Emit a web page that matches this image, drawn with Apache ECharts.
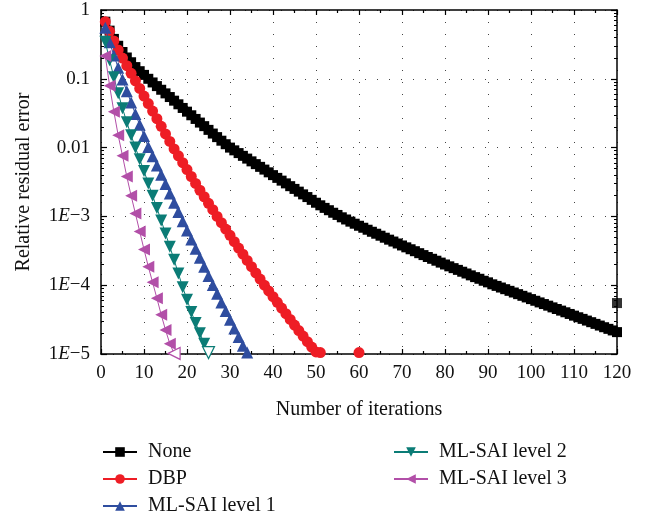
<!DOCTYPE html>
<html>
<head>
<meta charset="utf-8">
<script src="https://cdn.jsdelivr.net/npm/echarts@6/dist/echarts.min.js"></script>
<style>html,body{margin:0;padding:0;background:#fff}#c{width:654px;height:516px}</style>
</head>
<body>
<div id="c"></div>
<script>
// ---- data (iteration k = index + 1) ----
const seriesNames = ['None', 'DBP', 'ML-SAI level 1', 'ML-SAI level 2', 'ML-SAI level 3'];
const noneVals = [
  0.676, 0.501, 0.380, 0.302, 0.245, 0.204, 0.174, 0.148, 0.129, 0.114,
  0.100, 0.0885, 0.0783, 0.0693, 0.0614, 0.0543, 0.0481, 0.0426, 0.0377, 0.0333,
  0.0295, 0.0261, 0.0231, 0.0205, 0.0181, 0.0160, 0.0142, 0.0126, 0.0112, 0.0100,
  0.00912, 0.00832, 0.00759, 0.00692, 0.00631, 0.00575, 0.00525, 0.00479, 0.00437, 0.00398,
  0.00363, 0.00331, 0.00302, 0.00275, 0.00251, 0.00229, 0.00209, 0.00191, 0.00174, 0.00158,
  0.00145, 0.00133, 0.00123, 0.00113, 0.00105, 0.000970, 0.000902, 0.000839, 0.000783, 0.000731,
  0.000684, 0.000640, 0.000598, 0.000560, 0.000524, 0.000490, 0.000459, 0.000431, 0.000404, 0.000378,
  0.000355, 0.000333, 0.000312, 0.000292, 0.000274, 0.000257, 0.000242, 0.000227, 0.000213, 0.000200,
  0.000188, 0.000177, 0.000167, 0.000157, 0.000148, 0.000139, 0.000131, 0.000124, 0.000116, 0.000110,
  0.000103, 9.77e-5, 9.25e-5, 8.75e-5, 8.28e-5, 7.83e-5, 7.41e-5, 7.01e-5, 6.64e-5, 6.28e-5,
  5.94e-5, 5.62e-5, 5.32e-5, 5.04e-5, 4.76e-5, 4.51e-5, 4.27e-5, 4.04e-5, 3.82e-5, 3.61e-5,
  3.42e-5, 3.24e-5, 3.06e-5, 2.90e-5, 2.74e-5, 2.59e-5, 2.45e-5, 2.32e-5, 2.20e-5, 2.08e-5
];
const noneExtra = [[120, 5.5e-5]];
const dbpVals = [
  0.676, 0.490, 0.355, 0.263, 0.200, 0.155, 0.120, 0.0933, 0.0724, 0.0562,
  0.0437, 0.0339, 0.0263, 0.0204, 0.0158, 0.0123, 0.00955, 0.00759, 0.00603, 0.00479,
  0.00380, 0.00302, 0.00240, 0.00193, 0.00155, 0.00125, 0.00100, 0.000809, 0.000655, 0.000530,
  0.000429, 0.000347, 0.000282, 0.000229, 0.000186, 0.000151, 0.000123, 0.000100, 8.26e-5, 6.82e-5,
  5.64e-5, 4.66e-5, 3.85e-5, 3.18e-5, 2.63e-5, 2.19e-5, 1.82e-5, 1.51e-5, 1.26e-5, 1.07e-5,
  1.05e-5, null, null, null, null, null, null, null, null, 1.05e-5
];
const lvl1Vals = [
  0.550, 0.339, 0.219, 0.145, 0.0977, 0.0661, 0.0452, 0.0309, 0.0214, 0.0148,
  0.0102, 0.00750, 0.00550, 0.00403, 0.00295, 0.00216, 0.00158, 0.00116, 0.000851, 0.000625,
  0.000460, 0.000339, 0.000250, 0.000185, 0.000136, 0.000101, 7.53e-5, 5.62e-5, 4.20e-5, 3.14e-5,
  2.35e-5, 1.76e-5, 1.32e-5, 1.05e-5
];
const lvl2Vals = [
  0.347, 0.186, 0.105, 0.0617, 0.0372, 0.0234, 0.0151, 0.0100, 0.00676, 0.00457,
  0.00302, 0.00200, 0.00132, 0.000871, 0.000562, 0.000363, 0.000234, 0.000148, 9.33e-5, 6.17e-5,
  4.07e-5, 2.82e-5, 2.00e-5, 1.41e-5, 1.05e-5
];
const lvl3Vals = [
  0.214, 0.0794, 0.0331, 0.0151, 0.00759, 0.00380, 0.00200, 0.00110, 0.000603, 0.000331,
  0.000186, 0.000110, 6.46e-5, 3.72e-5, 2.24e-5, 1.41e-5, 1.02e-5
];
const xTicks = [0, 10, 20, 30, 40, 50, 60, 70, 80, 90, 100, 110, 120];
const yTickExps = [-5, -4, -3, -2, -1, 0];
const yTickLabels = ['1{i|E}−5', '1{i|E}−4', '1{i|E}−3', '0.01', '0.1', '1'];

// ---- style ----
const colors = ['#000000', '#ee1d25', '#2f4d9f', '#0b7c76', '#b24fa8'];
const symbols = ['rect', 'circle', 'triangle', 'triangle', 'triangle'];
const rotations = [0, 0, 0, 180, 90];
const sizes = [10, 11, 12, 12, 12];
const FONT = 'Liberation Serif';

const yMinor = [];
for (let e = -5; e < 0; e++) for (let m = 2; m <= 9; m++) yMinor.push(m * Math.pow(10, e));

function toPairs(vals) {
  return vals.map((v, i) => [i + 1, v === null ? '-' : v]);
}
function hollowLast(pairs, color) {
  const out = pairs.slice(0, -1);
  const last = pairs[pairs.length - 1];
  out.push({ value: last, itemStyle: { color: '#fff', borderColor: color, borderWidth: 1.2 } });
  return out;
}

const allVals = [noneVals, dbpVals, lvl1Vals, lvl2Vals, lvl3Vals];
const series = allVals.map((vals, k) => {
  let data = toPairs(vals);
  if (k === 3 || k === 4) data = hollowLast(data, colors[k]);
  return {
    name: seriesNames[k], type: 'line', xAxisIndex: 0, yAxisIndex: 0,
    data: data, symbol: symbols[k], symbolRotate: rotations[k], symbolSize: sizes[k],
    showAllSymbol: true, connectNulls: false, clip: true,
    lineStyle: { color: colors[k], width: 1 },
    itemStyle: { color: colors[k] },
    emphasis: { disabled: true }, animation: false, z: 2 + k
  };
});
series.push({
  name: 'None', type: 'scatter', data: noneExtra, symbol: 'rect', symbolSize: 10,
  itemStyle: { color: '#000' }, animation: false, z: 2
});

const logBase = { type: 'log', logBase: 10, min: 1e-5, max: 1, interval: 1 };
const dotted = { show: true, lineStyle: { color: '#444', width: 1, type: [1, 11] } };
const axLine = { show: true, lineStyle: { color: '#000', width: 1.5 } };

function legendFor(names, left) {
  return {
    data: names,
    orient: 'vertical', left: left, top: 442, padding: 0,
    itemWidth: 34, itemHeight: 12, itemGap: 7,
    textStyle: { fontFamily: FONT, fontSize: 20, lineHeight: 20, color: '#111', padding: [0, 0, 0, 6] }
  };
}

const option = {
  animation: false,
  backgroundColor: '#fff',
  textStyle: { fontFamily: FONT },
  grid: { left: 101, right: 37, top: 10, bottom: 162, show: false },
  legend: [legendFor(seriesNames.slice(0, 3), 102), legendFor(seriesNames.slice(3), 393)],
  xAxis: [
    {
      type: 'value', position: 'bottom', min: 0, max: 120, interval: 10,
      name: 'Number of iterations', nameLocation: 'middle', nameGap: 46,
      nameTextStyle: { fontFamily: FONT, fontSize: 20, color: '#111' },
      axisLine: axLine,
      axisTick: { show: true, inside: true, length: 5, lineStyle: { color: '#000', width: 1.2 } },
      minorTick: { show: true, splitNumber: 2, length: 3, lineStyle: { color: '#000', width: 1.2 } },
      axisLabel: { fontFamily: FONT, fontSize: 19, color: '#111', margin: 10,
        formatter: v => (xTicks.indexOf(v) >= 0 ? String(v) : '') },
      splitLine: dotted
    },
    {
      type: 'value', position: 'top', min: 0, max: 120, interval: 10,
      axisLine: axLine,
      axisTick: { show: true, inside: true, length: 5, lineStyle: { color: '#000', width: 1.2 } },
      minorTick: { show: true, splitNumber: 2, length: 3, lineStyle: { color: '#000', width: 1.2 } },
      axisLabel: { show: false }, splitLine: { show: false }
    }
  ],
  yAxis: [
    Object.assign({}, logBase, {
      position: 'left',
      name: 'Relative residual error', nameLocation: 'middle', nameGap: 67,
      nameTextStyle: { fontFamily: FONT, fontSize: 20, color: '#111' },
      axisLine: axLine,
      axisTick: { show: true, inside: true, length: 6, lineStyle: { color: '#000', width: 1.2 } },
      axisLabel: {
        fontFamily: FONT, fontSize: 19, color: '#111', margin: 11,
        formatter: v => {
          const i = yTickExps.indexOf(Math.round(Math.log10(v)));
          return i >= 0 ? yTickLabels[i] : '';
        },
        rich: { i: { fontFamily: FONT, fontSize: 19, fontStyle: 'italic', color: '#111' } }
      },
      splitLine: dotted
    }),
    Object.assign({}, logBase, {
      position: 'left', axisLine: { show: false },
      axisTick: { show: true, inside: true, length: 3, customValues: yMinor, lineStyle: { color: '#000', width: 1 } },
      axisLabel: { show: false }, splitLine: { show: false }
    }),
    Object.assign({}, logBase, {
      position: 'right', axisLine: axLine,
      axisTick: { show: true, inside: true, length: 6, lineStyle: { color: '#000', width: 1.2 } },
      axisLabel: { show: false }, splitLine: { show: false }
    }),
    Object.assign({}, logBase, {
      position: 'right', axisLine: { show: false },
      axisTick: { show: true, inside: true, length: 3, customValues: yMinor, lineStyle: { color: '#000', width: 1 } },
      axisLabel: { show: false }, splitLine: { show: false }
    })
  ],
  series: series
};

const chart = echarts.init(document.getElementById('c'), null, { renderer: 'canvas' });
chart.setOption(option);
</script>
</body>
</html>
